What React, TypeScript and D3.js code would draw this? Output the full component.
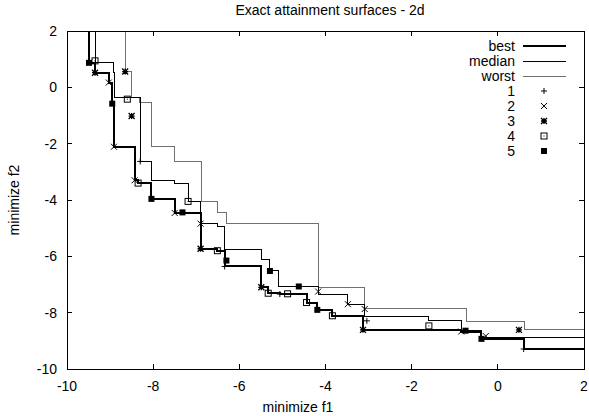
import React, { useRef, useEffect } from 'react';
import * as d3 from 'd3';

// surfaces: corner points of each staircase (minimise f1, f2)
const best = [
  [-9.49, 0.87], [-9.35, 0.52], [-9.03, 0.17], [-8.95, -0.58], [-8.91, -2.11],
  [-8.43, -3.3], [-8.35, -3.4], [-8.04, -3.96], [-7.5, -4.46], [-6.9, -5.73],
  [-6.51, -5.8], [-6.34, -6.36], [-5.49, -7.1], [-5.33, -7.31], [-5.06, -7.34],
  [-4.44, -7.64], [-4.19, -7.9], [-3.84, -8.11], [-3.14, -8.61], [-0.85, -8.67],
  [-0.38, -8.93], [0.6, -9.29],
];
const median = [
  [-9.35, 0.88], [-8.92, 0.52], [-8.89, -0.36], [-8.3, -2.63], [-8.04, -3.3],
  [-7.5, -3.4], [-7.19, -4.05], [-6.9, -4.84], [-6.51, -4.94], [-6.34, -5.77],
  [-5.49, -6.12], [-5.29, -6.5], [-5.1, -7.07], [-4.17, -7.37], [-3.48, -7.7],
  [-3.09, -8.12], [-1.6, -8.29], [-0.85, -8.65], [-0.37, -8.87],
];
const worst = [
  [-8.65, 0.56], [-8.5, -0.36], [-8.31, -0.54], [-8.03, -2.11], [-7.5, -2.63],
  [-6.88, -4.05], [-6.51, -4.43], [-6.3, -4.82], [-4.17, -7.12], [-3.09, -7.84],
  [-0.73, -8.32], [0.62, -8.61],
];

// points of the five runs
const run1 = [[-8.3, -2.63], [-6.34, -6.36], [-5.06, -7.34], [-3.04, -8.29], [0.6, -9.29]];
const run2 = [
  [-9.03, 0.17], [-8.91, -2.11], [-8.43, -3.3], [-7.5, -4.46], [-6.9, -4.84],
  [-4.17, -7.25], [-3.48, -7.7], [-3.09, -7.87], [-0.85, -8.67], [-0.28, -8.83],
];
const run3 = [[-9.35, 0.52], [-8.65, 0.56], [-8.5, -1.02], [-6.9, -5.73], [-5.49, -7.1], [-3.13, -8.61], [0.49, -8.61]];
const run4 = [
  [-9.35, 0.94], [-8.6, -0.42], [-8.35, -3.4], [-7.19, -4.05], [-6.51, -5.8],
  [-5.33, -7.31], [-4.88, -7.33], [-4.44, -7.64], [-3.84, -8.11], [-1.6, -8.47],
];
const run5 = [
  [-9.49, 0.87], [-8.95, -0.58], [-8.04, -3.96], [-7.32, -4.44], [-6.3, -6.15],
  [-5.29, -6.52], [-4.62, -7.07], [-4.19, -7.9], [-0.75, -8.64], [-0.38, -8.93],
];

const xTicks = [-10, -8, -6, -4, -2, 0, 2];
const yTicks = [-10, -8, -6, -4, -2, 0, 2];
const lineLabels = ['best', 'median', 'worst'];
const runLabels = ['1', '2', '3', '4', '5'];

const font = '"Liberation Sans", Arial, Helvetica, sans-serif';
const fontSize = 14;
const gray = '#707070';

function App() {
  const ref = useRef<SVGSVGElement>(null);

  useEffect(() => {
    const width = 589;
    const height = 416;
    const left = 67, right = 584, top = 31, bottom = 369;

    const svg = d3.select(ref.current);
    svg.selectAll('*').remove();

    const x = d3.scaleLinear().domain([-10, 2]).range([left, right]);
    const y = d3.scaleLinear().domain([-10, 2]).range([bottom, top]);

    svg.append('rect').attr('width', width).attr('height', height).attr('fill', '#fff');

    svg.append('clipPath').attr('id', 'plot')
      .append('rect').attr('x', left).attr('y', top).attr('width', right - left).attr('height', bottom - top);

    // ticks, inward on all four sides
    const ticks = svg.append('g').attr('stroke', '#000').attr('stroke-width', 1).attr('shape-rendering', 'crispEdges');
    xTicks.forEach((t) => {
      ticks.append('line').attr('x1', x(t)).attr('x2', x(t)).attr('y1', bottom).attr('y2', bottom - 5);
      ticks.append('line').attr('x1', x(t)).attr('x2', x(t)).attr('y1', top).attr('y2', top + 5);
    });
    yTicks.forEach((t) => {
      ticks.append('line').attr('x1', left).attr('x2', left + 5).attr('y1', y(t)).attr('y2', y(t));
      ticks.append('line').attr('x1', right).attr('x2', right - 5).attr('y1', y(t)).attr('y2', y(t));
    });

    const labels = svg.append('g').attr('font-family', font).attr('font-size', fontSize).attr('fill', '#000');
    xTicks.forEach((t) => {
      labels.append('text').attr('x', x(t)).attr('y', 391).attr('text-anchor', 'middle').text(t);
    });
    yTicks.forEach((t) => {
      labels.append('text').attr('x', 57).attr('y', y(t) + 5).attr('text-anchor', 'end').text(t);
    });

    labels.append('text').attr('x', 330).attr('y', 15).attr('text-anchor', 'middle')
      .text('Exact attainment surfaces - 2d');
    labels.append('text').attr('x', 298).attr('y', 412).attr('text-anchor', 'middle').text('minimize f1');
    labels.append('text').attr('transform', `translate(19, ${(top + bottom) / 2}) rotate(-90)`)
      .attr('text-anchor', 'middle').text('minimize f2');

    // staircases
    const step = d3.line<number[]>().x((d) => x(d[0])).y((d) => y(d[1])).curve(d3.curveStepAfter);
    const surface = (data: number[][]) => [[data[0][0], 2], ...data, [2, data[data.length - 1][1]]];

    const g = svg.append('g').attr('clip-path', 'url(#plot)').attr('fill', 'none')
      .attr('shape-rendering', 'crispEdges');
    g.append('path').attr('d', step(surface(worst))).attr('stroke', gray).attr('stroke-width', 1);
    g.append('path').attr('d', step(surface(median))).attr('stroke', '#000').attr('stroke-width', 1);
    g.append('path').attr('d', step(surface(best))).attr('stroke', '#000').attr('stroke-width', 2);

    // markers
    const s = 3;
    const plus = `M${-s},0H${s}M0,${-s}V${s}`;
    const cross = `M${-s},${-s}L${s},${s}M${-s},${s}L${s},${-s}`;
    const drawMarker = (sel: any, kind: number) => {
      if (kind === 0) sel.append('path').attr('d', plus).attr('stroke', '#000');
      if (kind === 1) sel.append('path').attr('d', cross).attr('stroke', '#000');
      if (kind === 2) sel.append('path').attr('d', plus + cross).attr('stroke', '#000').attr('stroke-width', 1.3);
      if (kind === 3) {
        sel.append('rect').attr('x', -s).attr('y', -s).attr('width', 2 * s).attr('height', 2 * s)
          .attr('fill', 'none').attr('stroke', '#000');
        sel.append('rect').attr('x', -0.5).attr('y', -0.5).attr('width', 1).attr('height', 1).attr('fill', '#000');
      }
      if (kind === 4) {
        sel.append('rect').attr('x', -s).attr('y', -s).attr('width', 2 * s).attr('height', 2 * s).attr('fill', '#000');
      }
    };

    const pts = svg.append('g').attr('fill', 'none');
    [run1, run2, run3, run4, run5].forEach((run, k) => {
      run.forEach((d) => {
        drawMarker(pts.append('g').attr('transform', `translate(${x(d[0])},${y(d[1])})`), k);
      });
    });

    // frame
    svg.append('rect').attr('x', left).attr('y', top).attr('width', right - left).attr('height', bottom - top)
      .attr('fill', 'none').attr('stroke', '#000').attr('shape-rendering', 'crispEdges');

    // legend
    const leg = svg.append('g').attr('font-family', font).attr('font-size', fontSize);
    const rowY = (i: number) => 46 + i * 15;
    lineLabels.forEach((name, i) => {
      leg.append('text').attr('x', 515).attr('y', rowY(i) + 5).attr('text-anchor', 'end').text(name);
      leg.append('line').attr('x1', 523).attr('x2', 566).attr('y1', rowY(i)).attr('y2', rowY(i))
        .attr('stroke', i === 2 ? gray : '#000').attr('stroke-width', i === 0 ? 2 : 1)
        .attr('shape-rendering', 'crispEdges');
    });
    runLabels.forEach((name, k) => {
      const i = k + 3;
      leg.append('text').attr('x', 515).attr('y', rowY(i) + 5).attr('text-anchor', 'end').text(name);
      drawMarker(leg.append('g').attr('fill', 'none').attr('transform', `translate(544,${rowY(i)})`), k);
    });
  }, []);

  return (
    <svg ref={ref} width={589} height={416} style={{ position: 'absolute', left: 0, top: 0 }} />
  );
}

export default App;
